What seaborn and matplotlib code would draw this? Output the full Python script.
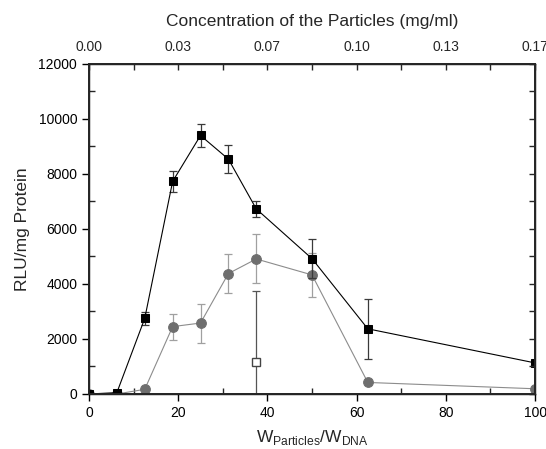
import matplotlib
matplotlib.use("Agg")
import matplotlib.pyplot as plt
import seaborn as sns
import numpy as np
import pandas as pd
from matplotlib.ticker import MultipleLocator, FixedLocator, FixedFormatter

# Data
ratio_black = [0, 6.25, 12.5, 18.75, 25, 31.25, 37.5, 50, 62.5, 100]
rlu_black = [0, 50, 2750, 7730, 9400, 8540, 6730, 4920, 2370, 1130]
err_black = [0, 0, 240, 370, 410, 510, 300, 720, 1100, 0]

ratio_gray = [0, 6.25, 12.5, 18.75, 25, 31.25, 37.5, 50, 62.5, 100]
rlu_gray = [0, 0, 170, 2450, 2580, 4380, 4910, 4330, 420, 190]
err_gray = [0, 0, 0, 470, 710, 715, 890, 790, 0, 0]

ratio_open = [37.5]
rlu_open = [1150]
err_open = [2600]

top_ticks = [0, 20, 40, 60, 80, 100]
top_labels = ["0.00", "0.03", "0.07", "0.10", "0.13", "0.17"]

sns.set_theme(style="ticks")
plt.rcParams['font.family'] = ['Liberation Sans', 'DejaVu Sans']

fig = plt.figure(figsize=(5.46, 4.49), dpi=100)
ax = fig.add_axes([0.163, 0.1225, 0.817, 0.735])

gray_line = "#8c8c8c"
gray_mark = "#6e6e6e"

df_b = pd.DataFrame({"x": ratio_black, "y": rlu_black})
df_g = pd.DataFrame({"x": ratio_gray, "y": rlu_gray})

ax.errorbar(ratio_gray, rlu_gray, yerr=err_gray, fmt='none', ecolor="#a0a0a0",
            elinewidth=0.9, capsize=3, capthick=0.9, zorder=2)
sns.lineplot(data=df_g, x="x", y="y", ax=ax, color=gray_line, lw=0.8,
             marker='o', markersize=7, markerfacecolor=gray_mark,
             markeredgecolor=gray_mark, zorder=3)
ax.errorbar(ratio_black, rlu_black, yerr=err_black, fmt='none', ecolor="#3a3a3a",
            elinewidth=0.9, capsize=3, capthick=0.9, zorder=4)
sns.lineplot(data=df_b, x="x", y="y", ax=ax, color="black", lw=0.8,
             marker='s', markersize=6, markerfacecolor="black",
             markeredgecolor="black", zorder=5)
ax.errorbar(ratio_open, rlu_open, yerr=err_open, fmt='s', color="#555555",
            mfc="white", mec="#444444", ms=6, elinewidth=0.9, capsize=3,
            capthick=0.9, zorder=6)

ax.set_xlim(0, 100)
ax.set_ylim(0, 12000)
ax.xaxis.set_major_locator(MultipleLocator(20))
ax.xaxis.set_minor_locator(MultipleLocator(10))
ax.yaxis.set_major_locator(MultipleLocator(2000))
ax.yaxis.set_minor_locator(MultipleLocator(1000))
ax.tick_params(which='major', direction='out', length=5, width=1, labelsize=10, colors='black')
ax.tick_params(which='minor', direction='in', length=4, width=1)
for s in ax.spines.values():
    s.set_linewidth(1.0)
    s.set_color('black')

ax.set_xlabel("W$_{\\mathregular{Particles}}$/W$_{\\mathregular{DNA}}$", fontsize=12.5, labelpad=6)
ax.set_ylabel("RLU/mg Protein", fontsize=12.5, labelpad=6)

# top axis
axt = ax.twiny()
axt.set_xlim(0, 100)
axt.xaxis.set_major_locator(FixedLocator(top_ticks))
axt.xaxis.set_major_formatter(FixedFormatter(top_labels))
axt.xaxis.set_minor_locator(MultipleLocator(10))
axt.tick_params(which='both', direction='in', length=4, width=1, labelsize=10, pad=7)
axt.set_xlabel("Concentration of the Particles (mg/ml)", fontsize=12.5, labelpad=10)

# right axis
axr = ax.twinx()
axr.set_ylim(0, 12000)
axr.yaxis.set_major_locator(MultipleLocator(1000))
axr.tick_params(which='both', direction='in', length=4, width=1, labelright=False)
axr.grid(False)
axt.grid(False)

fig.savefig("out.png", dpi=100)
